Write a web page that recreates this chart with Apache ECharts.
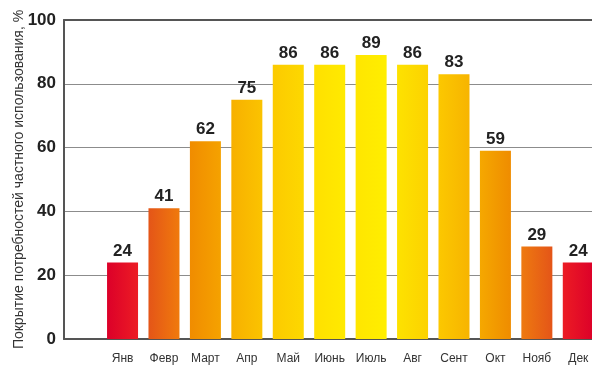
<!DOCTYPE html>
<html>
<head>
<meta charset="utf-8">
<script src="https://cdn.jsdelivr.net/npm/echarts@6/dist/echarts.min.js"></script>
<style>
  html, body { margin: 0; padding: 0; background: #fff; }
  #chart { width: 592px; height: 367px; }
</style>
</head>
<body>
<div id="chart"></div>
<script>
// месяцы и доля покрытия, %
const months = ['Янв', 'Февр', 'Март', 'Апр', 'Май', 'Июнь', 'Июль', 'Авг', 'Сент', 'Окт', 'Нояб', 'Дек']
const coverage = [24, 41, 62, 75, 86, 86, 89, 86, 83, 59, 29, 24]
const yTicks = [0, 20, 40, 60, 80, 100]
const yTitle = 'Покрытие потребностей частного использования, %'

// цвета столбиков: [левый край, правый край]
const shades = [
  ['#dc0029', '#ec1c24'],
  ['#e45518', '#f07a0c'],
  ['#f08c00', '#f5a200'],
  ['#f7b000', '#fbc300'],
  ['#fcca00', '#fdd800'],
  ['#ffe000', '#ffea00'],
  ['#ffe600', '#ffee00'],
  ['#fde200', '#fcd200'],
  ['#fcc800', '#f7b400'],
  ['#f5a800', '#ef8c00'],
  ['#ee7a10', '#e45518'],
  ['#ec1c24', '#dc0029']
]

const font = '"Liberation Sans", Arial, sans-serif'
const yMin = yTicks[0]
const yMax = yTicks[yTicks.length - 1]

// пустая первая категория - отступ от оси Y
const cats = [''].concat(months)
const data = [{ value: '-' }].concat(coverage.map((v, i) => {
  return {
    value: v,
    itemStyle: {
      color: {
        type: 'linear', x: 0, y: 0, x2: 1, y2: 0,
        colorStops: [
          { offset: 0, color: shades[i][0] },
          { offset: 1, color: shades[i][1] }
        ]
      }
    }
  }
}))

const frameLine = { lineStyle: { color: '#555', width: 2 } }

const chart = echarts.init(document.getElementById('chart'))
chart.setOption({
  animation: false,
  textStyle: { fontFamily: font },
  grid: [
    // рамка, ось Y и сетка
    { left: 64, right: -2, top: 20, bottom: 28, outerBoundsMode: 'none' },
    // столбики
    { left: 60.4, right: -7, top: 20, bottom: 28, outerBoundsMode: 'none' }
  ],
  xAxis: [
    {
      gridIndex: 0, type: 'value', min: 0, max: 1,
      axisLine: frameLine, axisTick: { show: false },
      axisLabel: { show: false }, splitLine: { show: false }
    },
    {
      gridIndex: 0, type: 'value', min: 0, max: 1, position: 'top',
      axisLine: frameLine, axisTick: { show: false },
      axisLabel: { show: false }, splitLine: { show: false }
    },
    {
      gridIndex: 1,
      type: 'category',
      data: cats,
      axisLine: { show: false },
      axisTick: { show: false },
      axisLabel: { color: '#333', fontSize: 12, margin: 14, fontFamily: font, interval: 0 }
    }
  ],
  yAxis: [
    {
      gridIndex: 0,
      type: 'value',
      min: yMin,
      max: yMax,
      interval: yTicks[1] - yTicks[0],
      name: yTitle,
      nameLocation: 'middle',
      nameGap: 38,
      nameMoveOverlap: false,
      nameTextStyle: { color: '#333', fontSize: 14, fontFamily: font },
      axisLine: { show: true, lineStyle: { color: '#555', width: 2 } },
      axisTick: { show: false },
      axisLabel: { color: '#222', fontSize: 17, fontWeight: 'bold', margin: 8, fontFamily: font },
      splitLine: { lineStyle: { color: '#8c8c8c', width: 1 } }
    },
    {
      gridIndex: 1,
      type: 'value',
      min: yMin,
      max: yMax,
      show: false
    }
  ],
  series: [
    {
      type: 'bar',
      xAxisIndex: 2,
      yAxisIndex: 1,
      data: data,
      barWidth: 31,
      label: {
        show: true,
        position: 'top',
        distance: 3,
        color: '#222',
        fontSize: 17,
        fontWeight: 'bold',
        fontFamily: font
      }
    }
  ]
})
</script>
</body>
</html>
